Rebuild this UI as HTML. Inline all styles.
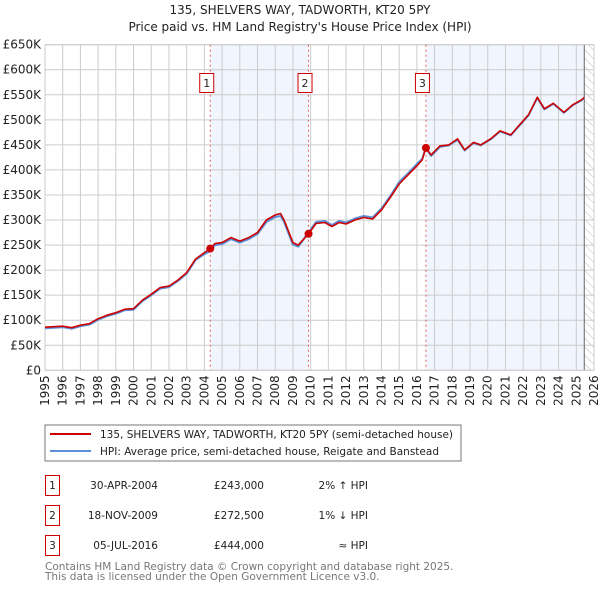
<!DOCTYPE html>
<html><head><meta charset="utf-8"><style>
body{margin:0;background:#fff;font-family:"DejaVu Sans","Liberation Sans",sans-serif;}
svg text{font-family:"DejaVu Sans","Liberation Sans",sans-serif;}
</style></head><body>
<svg id="c" width="600" height="590" xmlns="http://www.w3.org/2000/svg">
<defs><pattern id="hatch" width="6" height="6" patternUnits="userSpaceOnUse" patternTransform="rotate(-45)"><line x1="0" y1="0" x2="0" y2="6" stroke="#bbb" stroke-width="1"/></pattern></defs>
<text x="300" y="14" text-anchor="middle" font-size="12" fill="#222">135, SHELVERS WAY, TADWORTH, KT20 5PY</text>
<text x="300" y="31" text-anchor="middle" font-size="12" fill="#222">Price paid vs. HM Land Registry's House Price Index (HPI)</text>
<g id="plot"></g>
<rect x="45" y="425" width="416" height="36" fill="#fff" stroke="#777"/>
<line x1="50" y1="434" x2="91" y2="434" stroke="#cc0000" stroke-width="2"/>
<text x="100" y="438" font-size="10.5" fill="#222">135, SHELVERS WAY, TADWORTH, KT20 5PY (semi-detached house)</text>
<line x1="50" y1="451" x2="91" y2="451" stroke="#5b8fd6" stroke-width="2"/>
<text x="100" y="455" font-size="10.5" fill="#222">HPI: Average price, semi-detached house, Reigate and Banstead</text>
<g font-size="10.5" fill="#222">
<rect x="45.5" y="475.5" width="14" height="20" fill="#fff" stroke="#cc0000"/><text x="52.5" y="489" text-anchor="middle">1</text>
<text x="158" y="489" text-anchor="end">30-APR-2004</text><text x="264" y="489" text-anchor="end">£243,000</text><text x="368" y="489" text-anchor="end">2% ↑ HPI</text>
<rect x="45.5" y="505.5" width="14" height="20" fill="#fff" stroke="#cc0000"/><text x="52.5" y="519" text-anchor="middle">2</text>
<text x="158" y="519" text-anchor="end">18-NOV-2009</text><text x="264" y="519" text-anchor="end">£272,500</text><text x="368" y="519" text-anchor="end">1% ↓ HPI</text>
<rect x="45.5" y="535.5" width="14" height="20" fill="#fff" stroke="#cc0000"/><text x="52.5" y="549" text-anchor="middle">3</text>
<text x="158" y="549" text-anchor="end">05-JUL-2016</text><text x="264" y="549" text-anchor="end">£444,000</text><text x="368" y="549" text-anchor="end">≈ HPI</text>
</g>
<text x="45" y="570" font-size="10.5" fill="#777">Contains HM Land Registry data © Crown copyright and database right 2025.</text>
<text x="45" y="580" font-size="10.5" fill="#777">This data is licensed under the Open Government Licence v3.0.</text>
</svg>
<script>
const years=[1995,1995.5,1996,1996.5,1997,1997.5,1998,1998.5,1999,1999.5,2000,2000.5,2001,2001.5,2002,2002.5,2003,2003.5,2004,2004.33,2004.6,2005,2005.5,2006,2006.5,2007,2007.5,2008,2008.3,2008.5,2009,2009.3,2009.88,2010.3,2010.8,2011.2,2011.6,2012,2012.5,2013,2013.5,2014,2014.5,2015,2015.5,2016,2016.3,2016.5,2016.8,2017.3,2017.8,2018.3,2018.7,2019.2,2019.6,2020.2,2020.7,2021.3,2021.8,2022.3,2022.8,2023.2,2023.7,2024.3,2024.8,2025.3,2025.45];
const priceVals=[86,87,88,85,90,93,103,110,115,122,123,140,152,165,168,180,195,222,235,243,253,255,265,258,265,275,300,310,313,300,255,250,272,293,295,287,295,292,300,305,302,320,345,372,390,408,420,444,430,448,450,462,440,455,450,463,478,470,490,510,545,522,533,515,530,540,545];
const hpiVals=[84,85,86,83,88,91,101,108,113,120,121,138,150,163,166,178,193,220,232,238,250,252,262,255,262,272,296,306,308,296,251,247,275,296,298,290,298,295,303,308,305,323,348,376,393,412,422,444,428,446,449,460,439,454,449,462,477,469,489,509,544,521,532,514,529,539,544];
const sales=[[2004.33,243],[2009.88,272.5],[2016.51,444]];
const yTicks=[0,50,100,150,200,250,300,350,400,450,500,550,600,650];
const xTicks=[1995,1996,1997,1998,1999,2000,2001,2002,2003,2004,2005,2006,2007,2008,2009,2010,2011,2012,2013,2014,2015,2016,2017,2018,2019,2020,2021,2022,2023,2024,2025,2026];
const L=45,R=594,T=44.7,B=370.3;
const X=y=>L+(y-1995)/(2026-1995)*(R-L);
const Y=v=>B-v/650*(B-T);
const NS="http://www.w3.org/2000/svg",g=document.getElementById('plot');
function mk(t,a){const e=document.createElementNS(NS,t);for(const k in a)e.setAttribute(k,a[k]);g.appendChild(e);return e;}
let e;
e=mk('rect',{x:X(2004.33),y:T,width:X(2009.88)-X(2004.33),height:B-T,fill:'#eef3fc',opacity:0.8});


e=mk('rect',{x:X(2016.51),y:T,width:X(2025.45)-X(2016.51),height:B-T,fill:'#eef3fc',opacity:0.8});


e=mk('rect',{x:X(2025.45),y:T,width:R-X(2025.45),height:B-T,fill:'url(#hatch)'});


yTicks.forEach(v=>{
 e=mk('line',{x1:L,x2:R,y1:Y(v),y2:Y(v),stroke:'#ccc'});
 
 
 e=mk('text',{x:L-4,y:Y(v)+4,'text-anchor':'end','font-size':12,fill:'#222'});
 e.textContent=v===0?'£0':'£'+v+'K';
 
 
});
xTicks.forEach(v=>{
 e=mk('line',{x1:X(v),x2:X(v),y1:T,y2:B,stroke:'#ccc'});
 
 
 e=mk('text',{x:0,y:0,'text-anchor':'end','font-size':12,fill:'#222',transform:`translate(${X(v)+4},${B+5}) rotate(-90)`});
 e.textContent=v;
 
 
});
e=mk('line',{x1:X(2025.45),x2:X(2025.45),y1:T,y2:B,stroke:'#666'});


e=mk('rect',{x:L,y:T,width:R-L,height:B-T,fill:'none',stroke:'#ccc'});


const pts=a=>years.map((y,i)=>X(y).toFixed(1)+','+Y(a[i]).toFixed(1)).join(' ');
e=mk('polyline',{points:pts(hpiVals),fill:'none',stroke:'#5b8fd6',"stroke-width":2,"stroke-linejoin":'round'});


e=mk('polyline',{points:pts(priceVals),fill:'none',stroke:'#cc0000',"stroke-width":1.6,"stroke-linejoin":'round'});


sales.forEach((s,i)=>{
 e=mk('line',{x1:X(s[0]),x2:X(s[0]),y1:T,y2:B,stroke:'#e06060','stroke-dasharray':'2,3'});
 
 
 e=mk('circle',{cx:X(s[0]),cy:Y(s[1]),r:4,fill:'#cc0000'});
 
 
 e=mk('rect',{x:X(s[0])-10.5,y:73.5,width:14,height:19,fill:'#fff',stroke:'#cc0000'});
 
 
 e=mk('text',{x:X(s[0])-3.5,y:87,'text-anchor':'middle','font-size':11,fill:'#222'});
 e.textContent=i+1;
 
 
});
</script>
</body></html>
